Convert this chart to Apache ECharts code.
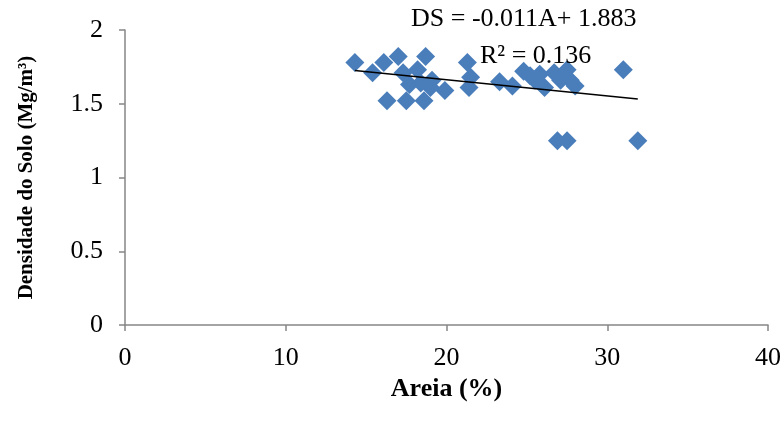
<!DOCTYPE html>
<html>
<head>
<meta charset="utf-8">
<script src="https://cdn.jsdelivr.net/npm/echarts@6/dist/echarts.min.js"></script>
<style>
  html, body { margin: 0; padding: 0; background: #fff; }
  #main { width: 784px; height: 425px; }
</style>
</head>
<body>
<div id="main"></div>
<script>
// Areia (%) x Densidade do Solo (Mg/m³)
const areia = [14.3, 15.4, 16.1, 16.3, 17.0, 17.3, 17.5, 17.7, 18.2, 18.4, 18.7, 18.6, 19.0, 19.1, 19.9,
  21.3, 21.5, 21.4, 23.3, 24.1, 24.8, 25.2, 25.5, 25.8, 26.1, 26.7, 27.1, 27.5, 27.7, 28.0,
  26.9, 27.5, 31.0, 31.9];
const densidade = [1.78, 1.71, 1.78, 1.52, 1.82, 1.71, 1.52, 1.63, 1.73, 1.64, 1.82, 1.52, 1.61, 1.66, 1.59,
  1.78, 1.68, 1.61, 1.65, 1.62, 1.72, 1.69, 1.66, 1.70, 1.61, 1.71, 1.66, 1.73, 1.66, 1.62,
  1.25, 1.25, 1.73, 1.25];
// linha de tendência: DS = -0.011A + 1.883
const trendX = [14.3, 31.9];
const trendY = [1.726, 1.532];
const xTicks = [0, 10, 20, 30, 40];
const yTicks = [0, 0.5, 1, 1.5, 2];

const chart = echarts.init(document.getElementById("main"));
const serif = "Liberation Serif";
const axisColor = "#868686";

chart.setOption({
  animation: false,
  grid: { left: 125, right: 16, top: 30, bottom: 100 },
  xAxis: {
    type: "value",
    min: xTicks[0],
    max: xTicks[xTicks.length - 1],
    interval: 10,
    name: "Areia (%)",
    nameLocation: "middle",
    nameGap: 44,
    nameTextStyle: { fontFamily: serif, fontWeight: "bold", fontSize: 26, color: "#000" },
    axisLine: { lineStyle: { color: axisColor, width: 1.5 } },
    axisTick: { show: true, length: 6, lineStyle: { color: axisColor, width: 1.5 } },
    axisLabel: { fontFamily: serif, fontSize: 26, color: "#000", margin: 20 },
    splitLine: { show: false }
  },
  yAxis: {
    type: "value",
    min: yTicks[0],
    max: yTicks[yTicks.length - 1],
    interval: 0.5,
    name: "Densidade do Solo (Mg/m³)",
    nameLocation: "middle",
    nameGap: 88,
    nameTextStyle: { fontFamily: serif, fontWeight: "bold", fontSize: 21, color: "#000" },
    axisLine: { show: true, lineStyle: { color: axisColor, width: 1.5 } },
    axisTick: { show: true, length: 6, lineStyle: { color: axisColor, width: 1.5 } },
    axisLabel: { fontFamily: serif, fontSize: 26, color: "#000", margin: 22 },
    splitLine: { show: false }
  },
  series: [
    {
      type: "scatter",
      symbol: "diamond",
      symbolSize: 19,
      itemStyle: { color: "#4a7ebb", opacity: 1 },
      data: areia.map((a, i) => [a, densidade[i]]),
      z: 2
    },
    {
      type: "line",
      symbol: "none",
      lineStyle: { color: "#000", width: 1.5 },
      data: trendX.map((a, i) => [a, trendY[i]]),
      z: 3
    }
  ],
  graphic: [
    {
      type: "text",
      left: 411,
      top: 6,
      style: { text: "DS = -0.011A+ 1.883", font: "26px " + serif, fill: "#000" },
      z: 10
    },
    {
      type: "text",
      left: 480,
      top: 43,
      style: { text: "R² = 0.136", font: "26px " + serif, fill: "#000" },
      z: 10
    }
  ]
});
</script>
</body>
</html>
